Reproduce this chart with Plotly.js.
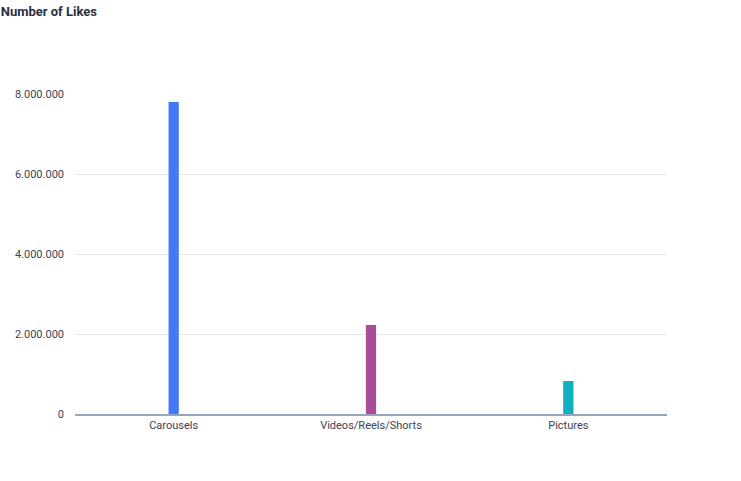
<!DOCTYPE html>
<html>
<head>
<meta charset="utf-8">
<script src="https://cdn.plot.ly/plotly-3.0.1.min.js"></script>
<style>
  html, body { margin: 0; padding: 0; background: #fff; }
  #chart { width: 741px; height: 481px; }
</style>
</head>
<body>
<div id="chart"></div>
<script>
// Likes per content type
var categories = ["Carousels", "Videos/Reels/Shorts", "Pictures"];
var likes = [7800000, 2225000, 825000];
var barColors = ["#4579f9", "#a84d97", "#10b1bc"];
var tickVals = [0, 2000000, 4000000, 6000000, 8000000];
var tickText = ["0", "2.000.000", "4.000.000", "6.000.000", "8.000.000"];

var trace = {
  type: "bar",
  x: categories,
  y: likes,
  marker: { color: barColors },
  width: 0.052,
  hoverinfo: "x+y"
};

var layout = {
  width: 741,
  height: 481,
  margin: { l: 75, r: 74, t: 94, b: 67 },
  paper_bgcolor: "#fff",
  plot_bgcolor: "#fff",
  font: { family: "Roboto, Arial, sans-serif", size: 11, color: "#3c4354" },
  title: {
    text: "<b>Number of Likes</b>",
    font: { family: "Roboto, Arial, sans-serif", size: 13, color: "#2a3142" },
    x: 0.001, xanchor: "left", xref: "container",
    y: 0.985, yanchor: "top", yref: "container"
  },
  xaxis: {
    showgrid: false,
    showline: true,
    linecolor: "#9aa5b9",
    linewidth: 1.5,
    ticks: "",
    tickfont: { size: 11, color: "#3c4354" }
  },
  yaxis: {
    range: [0, 8000000],
    tickvals: tickVals,
    ticktext: tickText,
    gridcolor: "#e6e8ee",
    gridwidth: 1,
    zeroline: false,
    showline: false,
    ticks: "",
    ticklabelstandoff: 10,
    tickfont: { size: 11, color: "#3c4354" }
  },
  showlegend: false
};

Plotly.newPlot("chart", [trace], layout, { displayModeBar: false, staticPlot: true });
</script>
</body>
</html>
